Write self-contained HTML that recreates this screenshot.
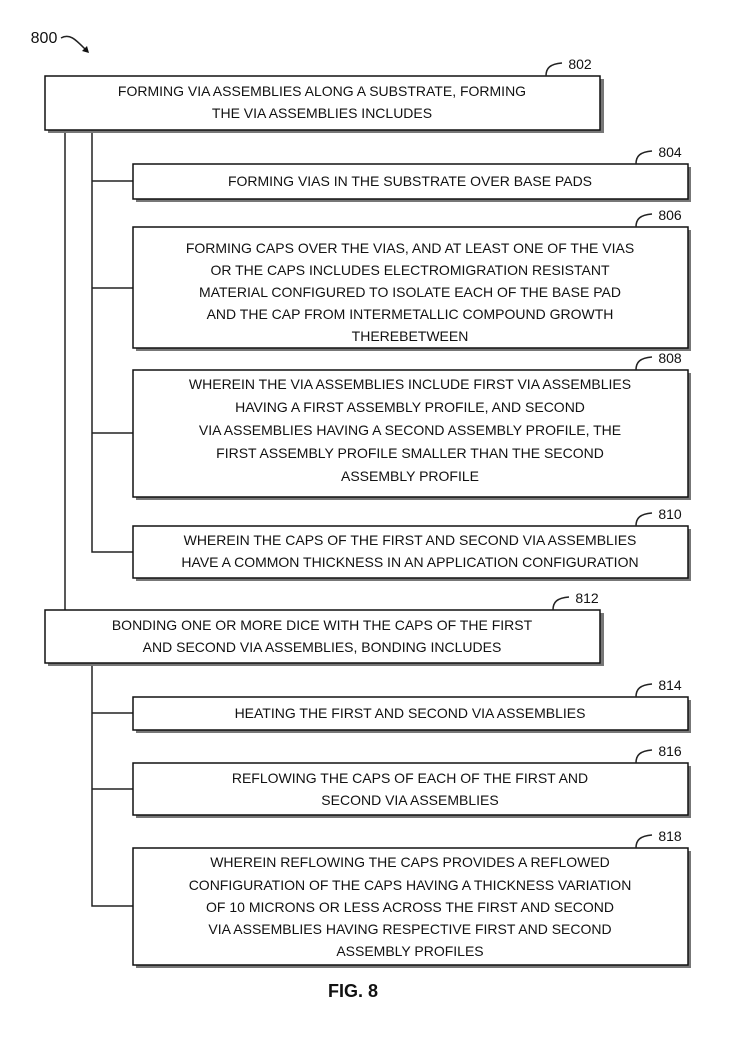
<!DOCTYPE html>
<html><head><meta charset="utf-8"><style>
html,body{margin:0;padding:0;background:#fff;}
svg{display:block;}
text{font-family:"Liberation Sans",sans-serif;font-size:14px;fill:#111;text-anchor:middle;}
.b{fill:#fff;stroke:#111;stroke-width:1.5;}
.s{fill:#777;}
.l{stroke:#222;stroke-width:1.5;fill:none;}
</style></head><body>
<svg width="733" height="1037" viewBox="0 0 733 1037">
<!-- 800 -->
<text x="44" y="43" style="font-size:16px">800</text>
<path class="l" d="M61 38 C70 33 76 40 86 50"/>
<path d="M82 51 L89 53 L87 46 Z" fill="#111"/>

<!-- connectors -->
<path class="l" d="M65 130 V610"/>
<path class="l" d="M92 130 V552 H133 M92 181 H133 M92 288 H133 M92 433 H133"/>
<path class="l" d="M92 663 V906 H133 M92 713 H133 M92 789 H133"/>

<!-- boxes: shadow then box -->
<g>
<rect class="s" x="48" y="79" width="556" height="54"/><rect class="b" x="45" y="76" width="555" height="54"/>
<rect class="s" x="136" y="167" width="555" height="35"/><rect class="b" x="133" y="164" width="555" height="35"/>
<rect class="s" x="136" y="230" width="555" height="121"/><rect class="b" x="133" y="227" width="555" height="121"/>
<rect class="s" x="136" y="373" width="555" height="127"/><rect class="b" x="133" y="370" width="555" height="127"/>
<rect class="s" x="136" y="529" width="555" height="52"/><rect class="b" x="133" y="526" width="555" height="52"/>
<rect class="s" x="48" y="613" width="556" height="53"/><rect class="b" x="45" y="610" width="555" height="53"/>
<rect class="s" x="136" y="700" width="555" height="33"/><rect class="b" x="133" y="697" width="555" height="33"/>
<rect class="s" x="136" y="766" width="555" height="52"/><rect class="b" x="133" y="763" width="555" height="52"/>
<rect class="s" x="136" y="851" width="555" height="117"/><rect class="b" x="133" y="848" width="555" height="117"/>
</g>

<!-- ref labels -->
<g style="font-size:16px">
<path class="l" d="M546 76 C546 68 550 64 562 63"/><text x="580" y="69">802</text>
<path class="l" d="M636 164 C636 156 640 152 652 151"/><text x="670" y="157">804</text>
<path class="l" d="M636 227 C636 219 640 215 652 214"/><text x="670" y="220">806</text>
<path class="l" d="M636 370 C636 362 640 358 652 357"/><text x="670" y="363">808</text>
<path class="l" d="M636 526 C636 518 640 514 652 513"/><text x="670" y="519">810</text>
<path class="l" d="M553 610 C553 602 557 598 569 597"/><text x="587" y="603">812</text>
<path class="l" d="M636 697 C636 689 640 685 652 684"/><text x="670" y="690">814</text>
<path class="l" d="M636 763 C636 755 640 751 652 750"/><text x="670" y="756">816</text>
<path class="l" d="M636 848 C636 840 640 836 652 835"/><text x="670" y="841">818</text>
</g>

<!-- box texts -->
<text x="322" y="96">FORMING VIA ASSEMBLIES ALONG A SUBSTRATE, FORMING</text>
<text x="322" y="118">THE VIA  ASSEMBLIES INCLUDES</text>

<text x="410" y="186">FORMING VIAS IN THE SUBSTRATE OVER BASE PADS</text>

<text x="410" y="253">FORMING CAPS OVER THE VIAS, AND AT LEAST ONE OF THE VIAS</text>
<text x="410" y="275">OR THE CAPS INCLUDES ELECTROMIGRATION RESISTANT</text>
<text x="410" y="297">MATERIAL CONFIGURED TO ISOLATE EACH OF THE BASE PAD</text>
<text x="410" y="319">AND THE CAP FROM INTERMETALLIC COMPOUND GROWTH</text>
<text x="410" y="341">THEREBETWEEN</text>

<text x="410" y="389">WHEREIN THE VIA ASSEMBLIES INCLUDE FIRST VIA ASSEMBLIES</text>
<text x="410" y="412">HAVING  A FIRST ASSEMBLY PROFILE, AND SECOND</text>
<text x="410" y="435">VIA ASSEMBLIES HAVING A SECOND ASSEMBLY PROFILE, THE</text>
<text x="410" y="458">FIRST ASSEMBLY PROFILE SMALLER THAN THE SECOND</text>
<text x="410" y="481">ASSEMBLY PROFILE</text>

<text x="410" y="545">WHEREIN THE CAPS OF THE FIRST AND SECOND VIA ASSEMBLIES</text>
<text x="410" y="567">HAVE A COMMON THICKNESS IN AN APPLICATION CONFIGURATION</text>

<text x="322" y="630">BONDING ONE OR MORE DICE WITH THE CAPS OF THE FIRST</text>
<text x="322" y="652">AND SECOND VIA ASSEMBLIES, BONDING INCLUDES</text>

<text x="410" y="718">HEATING THE FIRST AND SECOND VIA ASSEMBLIES</text>

<text x="410" y="783">REFLOWING THE CAPS OF EACH OF THE FIRST AND</text>
<text x="410" y="805">SECOND VIA ASSEMBLIES</text>

<text x="410" y="867">WHEREIN REFLOWING THE CAPS PROVIDES A REFLOWED</text>
<text x="410" y="890">CONFIGURATION OF THE CAPS HAVING A THICKNESS VARIATION</text>
<text x="410" y="912">OF 10 MICRONS OR LESS ACROSS THE FIRST AND SECOND</text>
<text x="410" y="934">VIA ASSEMBLIES HAVING RESPECTIVE FIRST AND SECOND</text>
<text x="410" y="956">ASSEMBLY PROFILES</text>

<text x="353" y="997" style="font-size:18px;font-weight:bold">FIG. 8</text>
</svg>
</body></html>
